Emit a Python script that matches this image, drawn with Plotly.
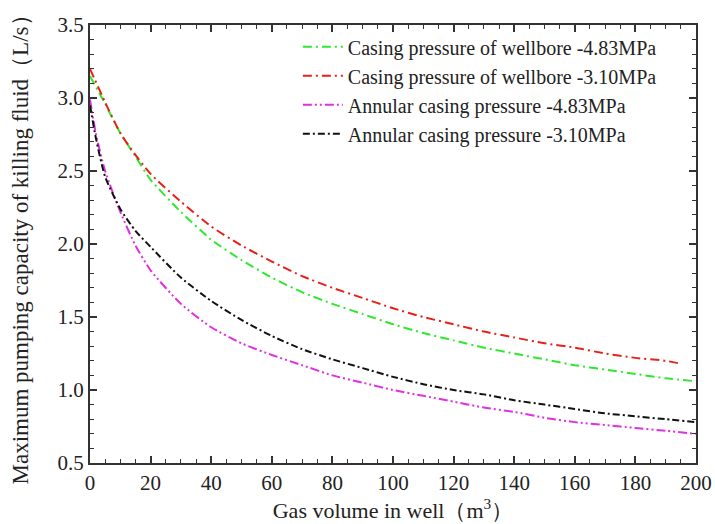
import plotly.graph_objects as go

# Data
x_red = [0, 5, 10, 15, 20, 30, 40, 50, 60, 70, 80, 90, 100, 110, 120, 130, 140, 150, 160, 170, 180, 190, 195]
y_red = [3.20, 2.97, 2.76, 2.61, 2.48, 2.29, 2.12, 1.99, 1.88, 1.78, 1.70, 1.63, 1.56, 1.50, 1.45, 1.40, 1.36, 1.32, 1.29, 1.25, 1.22, 1.20, 1.18]

x_green = [0, 5, 10, 15, 20, 30, 40, 50, 60, 70, 80, 90, 100, 110, 120, 130, 140, 150, 160, 170, 180, 190, 200]
y_green = [3.15, 2.96, 2.76, 2.60, 2.44, 2.22, 2.03, 1.89, 1.77, 1.67, 1.59, 1.52, 1.45, 1.39, 1.34, 1.29, 1.25, 1.21, 1.17, 1.14, 1.11, 1.08, 1.06]

x_mag = [0, 2, 5, 10, 15, 20, 30, 40, 50, 60, 70, 80, 90, 100, 110, 120, 130, 140, 150, 160, 170, 180, 190, 200]
y_mag = [2.99, 2.75, 2.50, 2.22, 1.99, 1.82, 1.59, 1.43, 1.32, 1.24, 1.17, 1.10, 1.05, 1.00, 0.96, 0.92, 0.88, 0.85, 0.81, 0.78, 0.76, 0.74, 0.72, 0.70]

x_blk = [0, 2, 5, 10, 15, 20, 30, 40, 50, 60, 70, 80, 90, 100, 110, 120, 130, 140, 150, 160, 170, 180, 190, 200]
y_blk = [2.95, 2.72, 2.46, 2.24, 2.09, 1.98, 1.77, 1.61, 1.48, 1.37, 1.28, 1.21, 1.15, 1.09, 1.04, 1.00, 0.97, 0.93, 0.90, 0.87, 0.84, 0.82, 0.80, 0.78]

names = [
    "Casing pressure of wellbore -4.83MPa",
    "Casing pressure of wellbore -3.10MPa",
    "Annular casing pressure -4.83MPa",
    "Annular casing pressure -3.10MPa",
]

FONT = "Liberation Serif"

fig = go.Figure()
fig.add_trace(go.Scatter(x=x_green, y=y_green, mode="lines", name=names[0],
                         line=dict(color="#2ee82e", width=2, dash="9px,4px,2px,4px", shape="spline", smoothing=0.6)))
fig.add_trace(go.Scatter(x=x_red, y=y_red, mode="lines", name=names[1],
                         line=dict(color="#e8201a", width=2, dash="9px,4px,2px,4px", shape="spline", smoothing=0.6)))
fig.add_trace(go.Scatter(x=x_mag, y=y_mag, mode="lines", name=names[2],
                         line=dict(color="#e030e0", width=2, dash="9px,3px,2px,3px,2px,3px", shape="spline", smoothing=0.6)))
fig.add_trace(go.Scatter(x=x_blk, y=y_blk, mode="lines", name=names[3],
                         line=dict(color="#111111", width=2, dash="7px,3px,2px,3px", shape="spline", smoothing=0.6)))

axis_common = dict(
    showline=True, linecolor="#333333", linewidth=2, mirror="ticks",
    ticks="inside", ticklen=7, tickwidth=1.5, tickcolor="#333333",
    showgrid=False, zeroline=False, automargin=False,
    tickfont=dict(family=FONT, size=21, color="#222222"),
)

fig.update_xaxes(
    range=[0, 200], tick0=0, dtick=20,
    minor=dict(ticks="inside", ticklen=4, dtick=5, tickcolor="#333333", tickwidth=1.2),
    title=dict(text="Gas volume in well（m<sup>3</sup>）", font=dict(family=FONT, size=22, color="#222222"), standoff=4),
    **axis_common,
)
fig.update_yaxes(
    range=[0.5, 3.5], tick0=0.5, dtick=0.5, tickformat=".1f",
    minor=dict(ticks="inside", ticklen=4, dtick=0.1, tickcolor="#333333", tickwidth=1.2),
    title=dict(text="Maximum pumping capacity of killing fluid（L/s）", font=dict(family=FONT, size=23, color="#222222"), standoff=22),
    **axis_common,
)

fig.update_layout(
    width=715, height=524,
    margin=dict(l=90, r=19, t=25, b=61),
    paper_bgcolor="white", plot_bgcolor="white",
    showlegend=True,
    legend=dict(x=0.343, y=0.995, xanchor="left", yanchor="top",
                bgcolor="rgba(0,0,0,0)", borderwidth=0,
                font=dict(family=FONT, size=20, color="#222222"),
                tracegroupgap=0, itemwidth=40),
    font=dict(family=FONT),
)

fig.write_html("out.html")
